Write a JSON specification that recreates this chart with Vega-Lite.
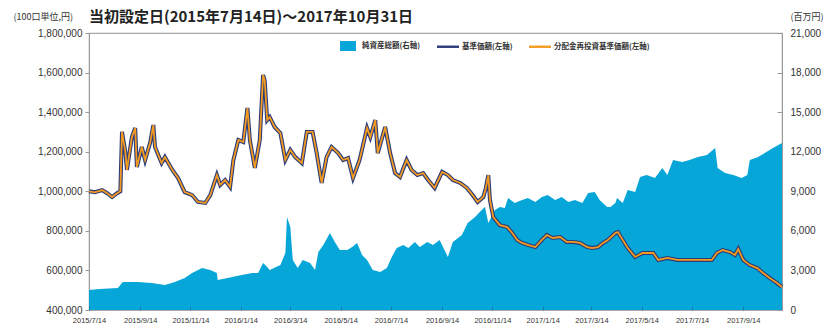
{
  "$schema": "https://vega.github.io/schema/vega-lite/v6.json",
  "width": 693,
  "height": 277,
  "autosize": {"type": "none"},
  "padding": {"left": 89, "top": 33, "right": 50, "bottom": 21},
  "background": "white",
  "config": {"font": "Noto Sans CJK JP", "view": {"stroke": "#a8a8a8", "strokeWidth": 1.2}},
  "title": {"text": "当初設定日(2015年7月14日)～2017年10月31日", "anchor": "start", "frame": "group", "fontSize": 15, "fontWeight": "bold", "color": "#222222", "offset": 8, "dy": 21, "font": "Noto Sans CJK JP"},
  "datasets": {
    "aum": [
      {"date": "2015-07-14", "aum": 1516}, {"date": "2015-07-27", "aum": 1600}, {"date": "2015-08-18", "aum": 1668},
      {"date": "2015-08-24", "aum": 2122}, {"date": "2015-09-11", "aum": 2122}, {"date": "2015-09-28", "aum": 2047},
      {"date": "2015-10-14", "aum": 1895}, {"date": "2015-10-26", "aum": 2122}, {"date": "2015-11-07", "aum": 2426},
      {"date": "2015-11-16", "aum": 2805}, {"date": "2015-11-28", "aum": 3184}, {"date": "2015-12-08", "aum": 3032},
      {"date": "2015-12-16", "aum": 2805}, {"date": "2015-12-17", "aum": 2274}, {"date": "2015-12-29", "aum": 2426},
      {"date": "2016-01-15", "aum": 2653}, {"date": "2016-01-28", "aum": 2805}, {"date": "2016-02-04", "aum": 2805},
      {"date": "2016-02-10", "aum": 3563}, {"date": "2016-02-15", "aum": 3259}, {"date": "2016-02-18", "aum": 3032},
      {"date": "2016-03-02", "aum": 3411}, {"date": "2016-03-08", "aum": 4320}, {"date": "2016-03-10", "aum": 7049},
      {"date": "2016-03-14", "aum": 6290}, {"date": "2016-03-17", "aum": 3790}, {"date": "2016-03-23", "aum": 3184},
      {"date": "2016-03-29", "aum": 3790}, {"date": "2016-04-07", "aum": 3563}, {"date": "2016-04-13", "aum": 3032},
      {"date": "2016-04-17", "aum": 4396}, {"date": "2016-04-23", "aum": 4927}, {"date": "2016-05-01", "aum": 5837},
      {"date": "2016-05-07", "aum": 5154}, {"date": "2016-05-13", "aum": 4548}, {"date": "2016-05-22", "aum": 4548},
      {"date": "2016-05-28", "aum": 4775}, {"date": "2016-06-03", "aum": 5079}, {"date": "2016-06-09", "aum": 4169},
      {"date": "2016-06-15", "aum": 3790}, {"date": "2016-06-22", "aum": 3032}, {"date": "2016-07-01", "aum": 2880},
      {"date": "2016-07-09", "aum": 3184}, {"date": "2016-07-15", "aum": 4017}, {"date": "2016-07-21", "aum": 4700},
      {"date": "2016-07-29", "aum": 4927}, {"date": "2016-08-04", "aum": 4700}, {"date": "2016-08-12", "aum": 5154},
      {"date": "2016-08-18", "aum": 4775}, {"date": "2016-08-27", "aum": 5154}, {"date": "2016-09-03", "aum": 4927},
      {"date": "2016-09-11", "aum": 5306}, {"date": "2016-09-21", "aum": 4017}, {"date": "2016-09-27", "aum": 5154},
      {"date": "2016-10-08", "aum": 5685}, {"date": "2016-10-15", "aum": 6595}, {"date": "2016-10-24", "aum": 7049},
      {"date": "2016-11-01", "aum": 7580}, {"date": "2016-11-05", "aum": 7807}, {"date": "2016-11-09", "aum": 6595},
      {"date": "2016-11-17", "aum": 7580}, {"date": "2016-11-23", "aum": 7807}, {"date": "2016-11-29", "aum": 7730},
      {"date": "2016-12-03", "aum": 8490}, {"date": "2016-12-11", "aum": 8111}, {"date": "2016-12-20", "aum": 8338},
      {"date": "2016-12-27", "aum": 8490}, {"date": "2017-01-05", "aum": 8186}, {"date": "2017-01-13", "aum": 8565},
      {"date": "2017-01-20", "aum": 8717}, {"date": "2017-01-29", "aum": 8338}, {"date": "2017-02-06", "aum": 8565},
      {"date": "2017-02-14", "aum": 8186}, {"date": "2017-02-22", "aum": 8338}, {"date": "2017-03-03", "aum": 8111},
      {"date": "2017-03-10", "aum": 8869}, {"date": "2017-03-18", "aum": 8944}, {"date": "2017-03-24", "aum": 8338},
      {"date": "2017-04-02", "aum": 7807}, {"date": "2017-04-06", "aum": 7807}, {"date": "2017-04-12", "aum": 8111},
      {"date": "2017-04-14", "aum": 8490}, {"date": "2017-04-21", "aum": 8111}, {"date": "2017-04-27", "aum": 9096},
      {"date": "2017-05-06", "aum": 8944}, {"date": "2017-05-12", "aum": 10081}, {"date": "2017-05-20", "aum": 10233},
      {"date": "2017-05-30", "aum": 10006}, {"date": "2017-06-08", "aum": 10764}, {"date": "2017-06-14", "aum": 10233},
      {"date": "2017-06-21", "aum": 11370}, {"date": "2017-07-02", "aum": 11218}, {"date": "2017-07-11", "aum": 11370},
      {"date": "2017-07-21", "aum": 11597}, {"date": "2017-08-01", "aum": 11749}, {"date": "2017-08-11", "aum": 12280},
      {"date": "2017-08-14", "aum": 10764}, {"date": "2017-08-23", "aum": 10385}, {"date": "2017-09-02", "aum": 10233},
      {"date": "2017-09-12", "aum": 10006}, {"date": "2017-09-19", "aum": 10233}, {"date": "2017-09-22", "aum": 11370},
      {"date": "2017-10-02", "aum": 11597}, {"date": "2017-10-10", "aum": 11901}, {"date": "2017-10-20", "aum": 12280},
      {"date": "2017-10-31", "aum": 12659}
    ],
    "nav": [
      {"date": "2015-07-14", "nav": 1000000, "reinvest": 1000000}, {"date": "2015-07-21", "nav": 995000, "reinvest": 995000},
      {"date": "2015-07-30", "nav": 1006000, "reinvest": 1006000}, {"date": "2015-08-05", "nav": 990000, "reinvest": 990000},
      {"date": "2015-08-11", "nav": 971000, "reinvest": 971000}, {"date": "2015-08-17", "nav": 990000, "reinvest": 990000},
      {"date": "2015-08-21", "nav": 1000000, "reinvest": 1000000}, {"date": "2015-08-23", "nav": 1300000, "reinvest": 1300000},
      {"date": "2015-08-27", "nav": 1200000, "reinvest": 1200000}, {"date": "2015-08-29", "nav": 1108000, "reinvest": 1108000},
      {"date": "2015-09-04", "nav": 1274000, "reinvest": 1274000}, {"date": "2015-09-08", "nav": 1320000, "reinvest": 1320000},
      {"date": "2015-09-10", "nav": 1123000, "reinvest": 1123000}, {"date": "2015-09-16", "nav": 1224000, "reinvest": 1224000},
      {"date": "2015-09-20", "nav": 1158000, "reinvest": 1158000}, {"date": "2015-09-26", "nav": 1244000, "reinvest": 1244000},
      {"date": "2015-09-30", "nav": 1335000, "reinvest": 1335000}, {"date": "2015-10-02", "nav": 1224000, "reinvest": 1224000},
      {"date": "2015-10-10", "nav": 1143000, "reinvest": 1143000}, {"date": "2015-10-14", "nav": 1173000, "reinvest": 1173000},
      {"date": "2015-10-23", "nav": 1108000, "reinvest": 1108000}, {"date": "2015-10-30", "nav": 1067000, "reinvest": 1067000},
      {"date": "2015-11-07", "nav": 996000, "reinvest": 996000}, {"date": "2015-11-16", "nav": 981000, "reinvest": 981000},
      {"date": "2015-11-23", "nav": 946000, "reinvest": 946000}, {"date": "2015-12-02", "nav": 941000, "reinvest": 941000},
      {"date": "2015-12-08", "nav": 981000, "reinvest": 981000}, {"date": "2015-12-16", "nav": 1082000, "reinvest": 1082000},
      {"date": "2015-12-20", "nav": 1032000, "reinvest": 1032000}, {"date": "2015-12-26", "nav": 1057000, "reinvest": 1057000},
      {"date": "2016-01-01", "nav": 1022000, "reinvest": 1022000}, {"date": "2016-01-05", "nav": 1158000, "reinvest": 1158000},
      {"date": "2016-01-11", "nav": 1259000, "reinvest": 1259000}, {"date": "2016-01-17", "nav": 1249000, "reinvest": 1249000},
      {"date": "2016-01-22", "nav": 1421000, "reinvest": 1421000}, {"date": "2016-01-25", "nav": 1259000, "reinvest": 1259000},
      {"date": "2016-01-31", "nav": 1118000, "reinvest": 1118000}, {"date": "2016-02-06", "nav": 1259000, "reinvest": 1259000},
      {"date": "2016-02-10", "nav": 1588000, "reinvest": 1588000}, {"date": "2016-02-12", "nav": 1560000, "reinvest": 1560000},
      {"date": "2016-02-15", "nav": 1360000, "reinvest": 1360000}, {"date": "2016-02-18", "nav": 1375000, "reinvest": 1375000},
      {"date": "2016-02-24", "nav": 1325000, "reinvest": 1325000}, {"date": "2016-03-02", "nav": 1294000, "reinvest": 1294000},
      {"date": "2016-03-08", "nav": 1158000, "reinvest": 1158000}, {"date": "2016-03-14", "nav": 1209000, "reinvest": 1209000},
      {"date": "2016-03-20", "nav": 1173000, "reinvest": 1173000}, {"date": "2016-03-28", "nav": 1143000, "reinvest": 1143000},
      {"date": "2016-04-03", "nav": 1300000, "reinvest": 1300000}, {"date": "2016-04-10", "nav": 1300000, "reinvest": 1300000},
      {"date": "2016-04-15", "nav": 1193000, "reinvest": 1193000}, {"date": "2016-04-21", "nav": 1042000, "reinvest": 1042000},
      {"date": "2016-04-27", "nav": 1173000, "reinvest": 1173000}, {"date": "2016-05-03", "nav": 1224000, "reinvest": 1224000},
      {"date": "2016-05-11", "nav": 1193000, "reinvest": 1193000}, {"date": "2016-05-17", "nav": 1158000, "reinvest": 1158000},
      {"date": "2016-05-23", "nav": 1168000, "reinvest": 1168000}, {"date": "2016-05-29", "nav": 1067000, "reinvest": 1067000},
      {"date": "2016-06-06", "nav": 1158000, "reinvest": 1158000}, {"date": "2016-06-15", "nav": 1320000, "reinvest": 1320000},
      {"date": "2016-06-19", "nav": 1274000, "reinvest": 1274000}, {"date": "2016-06-25", "nav": 1360000, "reinvest": 1360000},
      {"date": "2016-06-28", "nav": 1193000, "reinvest": 1193000}, {"date": "2016-07-07", "nav": 1325000, "reinvest": 1325000},
      {"date": "2016-07-13", "nav": 1193000, "reinvest": 1193000}, {"date": "2016-07-19", "nav": 1092000, "reinvest": 1092000},
      {"date": "2016-07-25", "nav": 1072000, "reinvest": 1072000}, {"date": "2016-08-02", "nav": 1158000, "reinvest": 1158000},
      {"date": "2016-08-08", "nav": 1108000, "reinvest": 1108000}, {"date": "2016-08-15", "nav": 1082000, "reinvest": 1082000},
      {"date": "2016-08-22", "nav": 1092000, "reinvest": 1092000}, {"date": "2016-08-28", "nav": 1057000, "reinvest": 1057000},
      {"date": "2016-09-05", "nav": 1017000, "reinvest": 1017000}, {"date": "2016-09-14", "nav": 1098000, "reinvest": 1098000},
      {"date": "2016-09-21", "nav": 1082000, "reinvest": 1082000}, {"date": "2016-09-27", "nav": 1057000, "reinvest": 1057000},
      {"date": "2016-10-06", "nav": 1042000, "reinvest": 1042000}, {"date": "2016-10-14", "nav": 1017000, "reinvest": 1017000},
      {"date": "2016-10-21", "nav": 981000, "reinvest": 981000}, {"date": "2016-10-27", "nav": 946000, "reinvest": 946000},
      {"date": "2016-11-03", "nav": 971000, "reinvest": 971000}, {"date": "2016-11-06", "nav": 1017000, "reinvest": 1017000},
      {"date": "2016-11-09", "nav": 1082000, "reinvest": 1082000}, {"date": "2016-11-11", "nav": 956000, "reinvest": 956000},
      {"date": "2016-11-15", "nav": 870000, "reinvest": 870000}, {"date": "2016-11-23", "nav": 829000, "reinvest": 829000},
      {"date": "2016-12-02", "nav": 819000, "reinvest": 819000}, {"date": "2016-12-08", "nav": 789000, "reinvest": 789000},
      {"date": "2016-12-14", "nav": 754000, "reinvest": 754000}, {"date": "2016-12-20", "nav": 739000, "reinvest": 739000},
      {"date": "2016-12-27", "nav": 729000, "reinvest": 729000}, {"date": "2017-01-05", "nav": 718000, "reinvest": 718000},
      {"date": "2017-01-13", "nav": 754000, "reinvest": 754000}, {"date": "2017-01-19", "nav": 779000, "reinvest": 779000},
      {"date": "2017-01-26", "nav": 764000, "reinvest": 764000}, {"date": "2017-02-04", "nav": 769000, "reinvest": 769000},
      {"date": "2017-02-12", "nav": 744000, "reinvest": 744000}, {"date": "2017-02-20", "nav": 744000, "reinvest": 744000},
      {"date": "2017-02-28", "nav": 739000, "reinvest": 739000}, {"date": "2017-03-09", "nav": 718000, "reinvest": 718000},
      {"date": "2017-03-15", "nav": 713000, "reinvest": 713000}, {"date": "2017-03-22", "nav": 718000, "reinvest": 718000},
      {"date": "2017-03-28", "nav": 739000, "reinvest": 739000}, {"date": "2017-04-03", "nav": 754000, "reinvest": 754000},
      {"date": "2017-04-12", "nav": 789000, "reinvest": 789000}, {"date": "2017-04-15", "nav": 794000, "reinvest": 794000},
      {"date": "2017-04-21", "nav": 754000, "reinvest": 754000}, {"date": "2017-04-27", "nav": 713000, "reinvest": 713000},
      {"date": "2017-05-06", "nav": 668000, "reinvest": 668000}, {"date": "2017-05-15", "nav": 688000, "reinvest": 688000},
      {"date": "2017-05-28", "nav": 688000, "reinvest": 688000}, {"date": "2017-06-03", "nav": 653000, "reinvest": 653000},
      {"date": "2017-06-14", "nav": 663000, "reinvest": 663000}, {"date": "2017-06-26", "nav": 653000, "reinvest": 653000},
      {"date": "2017-07-15", "nav": 653000, "reinvest": 653000}, {"date": "2017-08-07", "nav": 653000, "reinvest": 653000},
      {"date": "2017-08-13", "nav": 688000, "reinvest": 688000}, {"date": "2017-08-20", "nav": 703000, "reinvest": 703000},
      {"date": "2017-08-29", "nav": 693000, "reinvest": 693000}, {"date": "2017-09-04", "nav": 678000, "reinvest": 678000},
      {"date": "2017-09-08", "nav": 708000, "reinvest": 708000}, {"date": "2017-09-14", "nav": 653000, "reinvest": 653000},
      {"date": "2017-09-22", "nav": 627000, "reinvest": 627000}, {"date": "2017-10-01", "nav": 612000, "reinvest": 612000},
      {"date": "2017-10-08", "nav": 587000, "reinvest": 587000}, {"date": "2017-10-16", "nav": 562000, "reinvest": 562000},
      {"date": "2017-10-25", "nav": 536000, "reinvest": 536000}, {"date": "2017-10-31", "nav": 516000, "reinvest": 516000}
    ]
  },
  "encoding": {
    "x": {
      "field": "date", "type": "temporal",
      "scale": {"type": "utc", "domain": [{"year": 2015, "month": 7, "date": 14, "utc": true}, {"year": 2017, "month": 10, "date": 31, "utc": true}]},
      "axis": {
        "title": null, "grid": false, "domain": false, "zindex": 1,
        "values": [
          {"year": 2015, "month": 7, "date": 14, "utc": true}, {"year": 2015, "month": 9, "date": 14, "utc": true},
          {"year": 2015, "month": 11, "date": 14, "utc": true}, {"year": 2016, "month": 1, "date": 14, "utc": true},
          {"year": 2016, "month": 3, "date": 14, "utc": true}, {"year": 2016, "month": 5, "date": 14, "utc": true},
          {"year": 2016, "month": 7, "date": 14, "utc": true}, {"year": 2016, "month": 9, "date": 14, "utc": true},
          {"year": 2016, "month": 11, "date": 14, "utc": true}, {"year": 2017, "month": 1, "date": 14, "utc": true},
          {"year": 2017, "month": 3, "date": 14, "utc": true}, {"year": 2017, "month": 5, "date": 14, "utc": true},
          {"year": 2017, "month": 7, "date": 14, "utc": true}, {"year": 2017, "month": 9, "date": 14, "utc": true}
        ],
        "labelExpr": "utcFormat(datum.value, '%Y/%-m/%-d')",
        "tickSize": -4, "tickColor": "#1a7ea6", "tickWidth": 1,
        "labelFont": "Liberation Sans", "labelFontSize": 7.5, "labelColor": "#333333", "labelPadding": 10,
        "labelOverlap": false, "labelFlush": false
      }
    }
  },
  "layer": [
    {
      "data": {"name": "aum"},
      "mark": {"type": "area", "interpolate": "linear"},
      "encoding": {
        "y": {
          "field": "aum", "type": "quantitative",
          "scale": {"domain": [0, 21000], "nice": false, "zero": true},
          "axis": {
            "orient": "right", "values": [0, 3000, 6000, 9000, 12000, 15000, 18000, 21000], "format": ",d",
            "grid": false, "domainColor": "#999999", "tickColor": "#999999", "tickSize": -5, "labelOverlap": false,
            "labelFont": "Liberation Sans", "labelFontSize": 10, "labelColor": "#333333", "labelPadding": 13,
            "title": "(百万円)", "titleAngle": 0, "titleX": 8, "titleY": -17, "titleAlign": "left", "titleBaseline": "middle",
            "titleFont": "Noto Sans CJK JP", "titleFontSize": 9, "titleFontWeight": "normal", "titleColor": "#333333"
          }
        },
        "color": {
          "datum": "純資産総額(右軸)",
          "scale": {"domain": ["純資産総額(右軸)", "基準価額(左軸)", "分配金再投資基準価額(左軸)"], "range": ["#07a6d8", "#2a3c7a", "#f39a21"]},
          "legend": {
            "title": null, "orient": "none", "legendX": 249, "legendY": 3, "direction": "horizontal",
            "labelFont": "Noto Sans CJK JP", "labelFontSize": 7.5, "labelFontWeight": "bold", "labelColor": "#333333",
            "columnPadding": 16, "labelOffset": 4, "padding": 0, "symbolSize": 400,
            "symbolType": "stroke", "symbolStrokeWidth": 2.5,
            "encoding": {
              "symbols": {
                "shape": {"value": {"expr": "datum.value === '純資産総額(右軸)' ? 'M-0.8,-0.5L0.8,-0.5L0.8,0.5L-0.8,0.5Z' : 'M-1.1,-0.12L1.1,-0.12L1.1,0.12L-1.1,0.12Z'"}},
                "fill": {"value": {"expr": "datum.value === '純資産総額(右軸)' ? '#07a6d8' : (datum.value === '基準価額(左軸)' ? '#2a3c7a' : '#f39a21')"}},
                "stroke": {"value": "transparent"},
                "strokeWidth": {"value": 0},
                "fillOpacity": {"value": 1}
              }
            }
          }
        }
      }
    },
    {
      "data": {"name": "nav"},
      "layer": [
        {
          "mark": {"type": "line", "strokeWidth": 4},
          "encoding": {
            "y": {
              "field": "nav", "type": "quantitative",
              "scale": {"domain": [400000, 1800000], "nice": false, "zero": false},
              "axis": {
                "orient": "left", "values": [400000, 600000, 800000, 1000000, 1200000, 1400000, 1600000, 1800000], "format": ",d",
                "grid": false, "domainColor": "#999999", "tickColor": "#999999", "tickSize": 4, "labelOverlap": false,
                "labelFont": "Liberation Sans", "labelFontSize": 10, "labelColor": "#333333", "labelPadding": 3,
                "title": "(100口単位,円)", "titleAngle": 0, "titleX": -76, "titleY": -17, "titleAlign": "left", "titleBaseline": "middle",
                "titleFont": "Noto Sans CJK JP", "titleFontSize": 9, "titleFontWeight": "normal", "titleColor": "#333333"
              }
            },
            "color": {"datum": "基準価額(左軸)"}
          }
        },
        {
          "mark": {"type": "line", "strokeWidth": 1.8},
          "encoding": {
            "y": {
              "field": "reinvest", "type": "quantitative",
              "scale": {"domain": [400000, 1800000], "nice": false, "zero": false},
              "axis": {
                "orient": "left", "values": [400000, 600000, 800000, 1000000, 1200000, 1400000, 1600000, 1800000], "format": ",d",
                "grid": false, "domainColor": "#999999", "tickColor": "#999999", "tickSize": 4, "labelOverlap": false,
                "labelFont": "Liberation Sans", "labelFontSize": 10, "labelColor": "#333333", "labelPadding": 3,
                "title": "(100口単位,円)", "titleAngle": 0, "titleX": -76, "titleY": -17, "titleAlign": "left", "titleBaseline": "middle",
                "titleFont": "Noto Sans CJK JP", "titleFontSize": 9, "titleFontWeight": "normal", "titleColor": "#333333"
              }
            },
            "color": {"datum": "分配金再投資基準価額(左軸)"}
          }
        }
      ]
    }
  ],
  "resolve": {"scale": {"y": "independent"}}
}
